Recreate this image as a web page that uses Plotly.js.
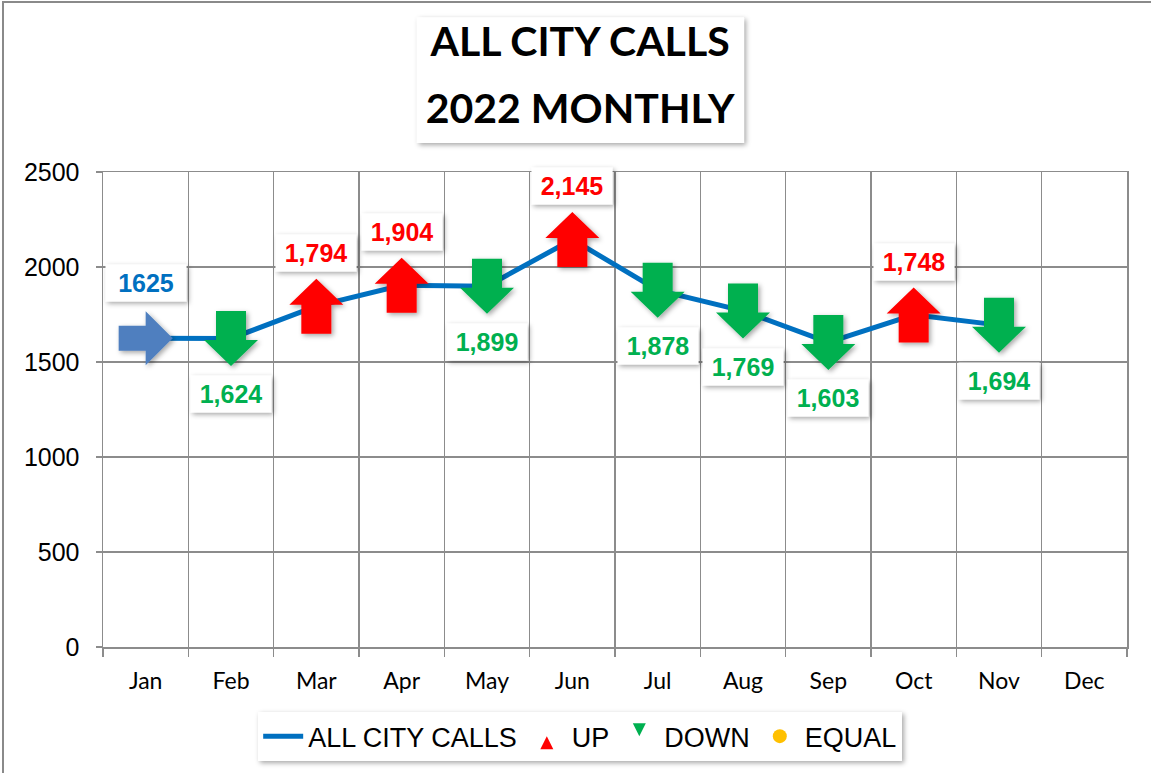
<!DOCTYPE html>
<html><head><meta charset="utf-8">
<script src="https://cdn.plot.ly/plotly-3.0.1.min.js"></script>
<style>
html,body{margin:0;padding:0;background:#fff;}
#wrap{position:relative;width:1151px;height:773px;overflow:hidden;}
#chart{width:1151px;height:773px;}
#frame{position:absolute;left:2px;top:1px;width:1160px;height:800px;border-left:2px solid #8a8a8a;border-top:2px solid #8a8a8a;pointer-events:none;}
</style></head><body>
<div id="wrap"><div id="chart"></div><div id="frame"></div></div>
<script>
// ---- data ----
const months = ['Jan','Feb','Mar','Apr','May','Jun','Jul','Aug','Sep','Oct','Nov','Dec'];
const calls = [1625, 1624, 1794, 1904, 1899, 2145, 1878, 1769, 1603, 1748, 1694, null];
const callLabels = ['1625','1,624','1,794','1,904','1,899','2,145','1,878','1,769','1,603','1,748','1,694',''];
const seriesName = 'ALL CITY CALLS';
const legendNames = ['UP','DOWN','EQUAL'];
const titleLines = ['ALL CITY CALLS','2022 MONTHLY'];
const yTicks = [0, 500, 1000, 1500, 2000, 2500];

// ---- styles ----
const C_LINE = '#0070C0', C_UP = '#FF0000', C_DOWN = '#00B050', C_EQ = '#FFC000', C_START = '#4F7FBF', C_START_TXT = '#0070C0';
const GRID = '#8c8c8c';
const TITLE_PX = 41;

// direction of each month vs previous
const dirs = calls.map((v, i) => {
  if (v === null) return null;
  if (i === 0) return 'start';
  const p = calls[i - 1];
  return v > p ? 'up' : (v < p ? 'down' : 'equal');
});

// block arrow paths (pixels, relative to point, y up-positive)
const H = 55, h = 26, W = 27, s = 15;
const upPath = `M${-s},${-H/2} L${s},${-H/2} L${s},${H/2-h} L${W},${H/2-h} L0,${H/2} L${-W},${H/2-h} L${-s},${H/2-h} Z`;
const downPath = `M${-s},${H/2} L${s},${H/2} L${s},${-H/2+h} L${W},${-H/2+h} L0,${-H/2} L${-W},${-H/2+h} L${-s},${-H/2+h} Z`;
const rs = 12.5, rW = 27, rH = 27;
const rightPath = `M${-rW},${rs} L${rW-27},${rs} L${rW-27},${rH} L${rW},0 L${rW-27},${-rH} L${rW-27},${-rs} L${-rW},${-rs} Z`;

const shapes = [];
// title box
shapes.push({type:'rect', xref:'paper', yref:'paper', x0:0.3066, x1:0.626, y0:1.061, y1:1.326,
  fillcolor:'#ffffff', line:{width:0}, layer:'below'});
const annotations = [];
calls.forEach((v, i) => {
  const d = dirs[i];
  if (!d) return;
  let path, col, tcol, shift;
  if (d === 'up') { path = upPath; col = C_UP; tcol = C_UP; shift = 53; }
  else if (d === 'down') { path = downPath; col = C_DOWN; tcol = C_DOWN; shift = -56; }
  else if (d === 'start') { path = rightPath; col = C_START; tcol = C_START_TXT; shift = 55; }
  else { path = null; col = C_EQ; tcol = '#000'; shift = 50; }
  if (path) shapes.push({type:'path', xref:'x', yref:'y', xsizemode:'pixel', ysizemode:'pixel',
    xanchor:i, yanchor:v, path:path, fillcolor:col, line:{width:0}, layer:'above'});
  annotations.push({x: months[i], y: v, xref:'x', yref:'y', text: '<b>' + callLabels[i] + '</b>', showarrow:false,
    yshift: shift, font:{family:'Liberation Sans, Arial, sans-serif', size:25, color:tcol},
    bgcolor:'#ffffff', borderpad:4, width:72});
});

const upX = [], upY = [], dnX = [], dnY = [], eqX = [], eqY = [];
dirs.forEach((d, i) => {
  if (d === 'up') { upX.push(months[i]); upY.push(calls[i]); }
  if (d === 'down') { dnX.push(months[i]); dnY.push(calls[i]); }
  if (d === 'equal') { eqX.push(months[i]); eqY.push(calls[i]); }
});

const traces = [
  {type:'scatter', mode:'lines', name:seriesName, x:months, y:calls, line:{color:C_LINE, width:5}, hoverinfo:'x+y'},
  {type:'scatter', mode:'markers', name:legendNames[0], x:upX, y:upY, marker:{symbol:'arrow-up', size:13, color:C_UP}},
  {type:'scatter', mode:'markers', name:legendNames[1], x:dnX, y:dnY, marker:{symbol:'arrow-down', size:13, color:C_DOWN}},
  {type:'scatter', mode:'markers', name:legendNames[2], x:eqX.length ? eqX : [null], y:eqY.length ? eqY : [null], marker:{symbol:'circle', size:14, color:C_EQ}}
];

const titleText = titleLines.map(t => `<span style="font-size:${TITLE_PX}px">${t}</span>`).join('<br>');

const layout = {
  width:1151, height:773,
  margin:{l:103, r:24, t:172, b:126, autoexpand:false},
  paper_bgcolor:'#ffffff', plot_bgcolor:'#ffffff',
  title:{text: titleText, x:0.504, xanchor:'center', xref:'container', y:0.927, yanchor:'top', yref:'container',
    font:{family:'Lato, Carlito, sans-serif', size:51, color:'#000', weight:'bold'}},
  xaxis:{type:'category', categoryorder:'array', categoryarray:months, range:[-0.5, 11.5], fixedrange:true,
    tickson:'boundaries', showgrid:true, gridcolor:GRID, gridwidth:1.5,
    ticks:'outside', ticklen:8, tickcolor:GRID, tickwidth:1.5,
    showline:true, linecolor:GRID, linewidth:1.5, mirror:true, zeroline:false,
    tickfont:{family:'Lato, Carlito, sans-serif', size:23, color:'#000'}, ticklabelstandoff:13},
  yaxis:{range:[0, 2500], tickvals:yTicks, ticktext:yTicks.map(String), fixedrange:true,
    showgrid:true, gridcolor:GRID, gridwidth:1.5, zeroline:false,
    ticks:'outside', ticklen:6, tickcolor:GRID, tickwidth:1.5,
    showline:true, linecolor:GRID, linewidth:1.5, mirror:true,
    tickfont:{family:'Liberation Sans, Arial, sans-serif', size:25, color:'#000'}, ticklabelstandoff:11},
  showlegend:true,
  legend:{orientation:'h', x:0.466, xanchor:'center', y:-0.137, yanchor:'top', bgcolor:'#ffffff',
    font:{family:'Liberation Sans, Arial, sans-serif', size:27, color:'#000'}, itemwidth:40, traceorder:'normal'},
  shapes:shapes, annotations:annotations
};

Plotly.newPlot('chart', traces, layout, {displayModeBar:false, staticPlot:true}).then(gd => {
  const svgs = gd.querySelectorAll('svg.main-svg');
  const ns = 'http://www.w3.org/2000/svg';
  svgs.forEach((svg, k) => {
    let defs = svg.querySelector('defs');
    if (!defs) { defs = document.createElementNS(ns, 'defs'); svg.insertBefore(defs, svg.firstChild); }
    const f = document.createElementNS(ns, 'filter');
    f.setAttribute('id', 'softshadow' + k);
    f.setAttribute('x', '-30%'); f.setAttribute('y', '-30%'); f.setAttribute('width', '160%'); f.setAttribute('height', '160%');
    const ds = document.createElementNS(ns, 'feDropShadow');
    ds.setAttribute('dx', '2'); ds.setAttribute('dy', '2'); ds.setAttribute('stdDeviation', '2.5');
    ds.setAttribute('flood-color', '#000'); ds.setAttribute('flood-opacity', '0.35');
    f.appendChild(ds); defs.appendChild(f);
    svg.querySelectorAll('.annotation-text-g rect.bg, .legend rect.bg, .shapelayer path').forEach(el => {
      el.setAttribute('filter', 'url(#softshadow' + k + ')');
    });
  });
});
</script>
</body></html>
